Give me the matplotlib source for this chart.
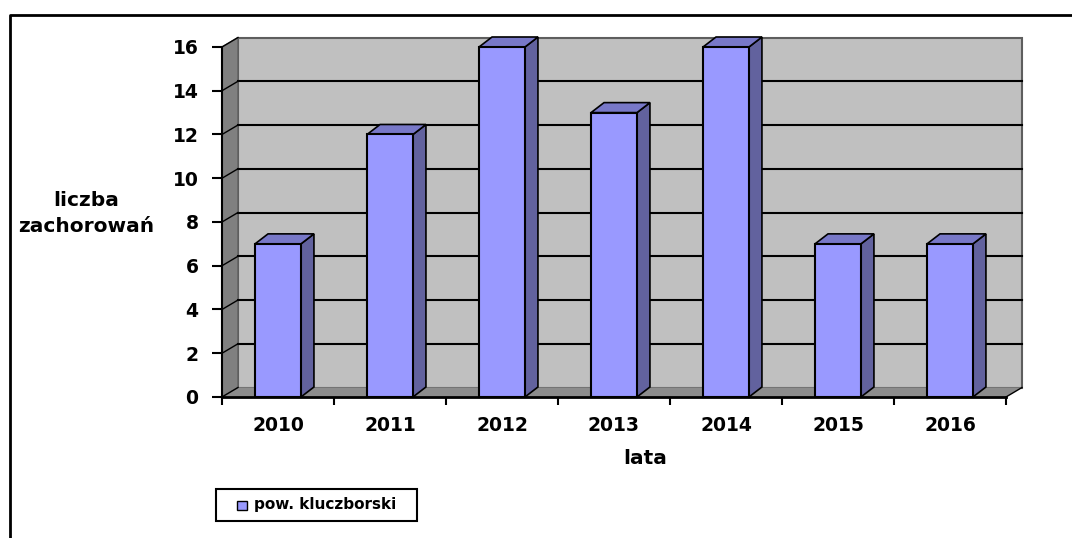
import matplotlib
matplotlib.use("Agg")
import matplotlib.pyplot as plt
from matplotlib.patches import Polygon, Rectangle
from matplotlib.lines import Line2D

years = ["2010", "2011", "2012", "2013", "2014", "2015", "2016"]
cases = [7, 12, 16, 13, 16, 7, 7]
y_ticks = [0, 2, 4, 6, 8, 10, 12, 14, 16]
series_name = "pow. kluczborski"
x_title = "lata"
y_title = ["liczba", "zachorowań"]

W, H = 1072, 538
FRONT = "#9999FF"
SIDE = "#62629E"
TOP = "#7878C8"
WALL = "#C0C0C0"
SIDE_WALL = "#808080"
FLOOR = "#8C8C8C"

plt.rcParams["font.family"] = ["DejaVu Sans"]
plt.rcParams["font.weight"] = "bold"

n = len(years)
ymax = y_ticks[-1]
wdx, wdy = 0.143, 0.434   # depth of walls (data units)
bdx, bdy = 0.116, 0.457   # depth of bars
bw = 0.41

fig = plt.figure(figsize=(W / 100, H / 100), dpi=100)
ax = fig.add_axes([222 / W, 1 - 397 / H, 800 / W, 359.5 / H])
ax.set_xlim(0, n + wdx)
ax.set_ylim(0, ymax + wdy)
for s in ax.spines.values():
    s.set_visible(False)
ax.patch.set_visible(False)

# walls and floor
ax.add_patch(Rectangle((wdx, wdy), n, ymax, facecolor=WALL, edgecolor="#5E5E5E",
                       lw=1.5, zorder=1, clip_on=False))
ax.add_patch(Polygon([(0, 0), (wdx, wdy), (wdx, ymax + wdy), (0, ymax)], closed=True,
                     facecolor=SIDE_WALL, edgecolor="#5E5E5E", lw=1.0, zorder=1, clip_on=False))
ax.add_patch(Polygon([(0, 0), (n, 0), (n + wdx, wdy), (wdx, wdy)], closed=True,
                     facecolor=FLOOR, edgecolor="none", zorder=1, clip_on=False))

# gridlines on back wall and side wall
for v in y_ticks[1:-1]:
    ax.plot([wdx, n + wdx], [v + wdy, v + wdy], color="black", lw=1.5, zorder=2, clip_on=False)
for v in y_ticks:
    ax.plot([0, wdx], [v, v + wdy], color="black", lw=1.0, zorder=2, clip_on=False)
ax.plot([n, n + wdx], [0, wdy], color="black", lw=1.0, zorder=2, clip_on=False)

# bars
centers = [i + 0.5 for i in range(n)]
ax.bar(centers, cases, width=bw, color=FRONT, edgecolor="black", lw=1.5, zorder=4, clip_on=False)
for c, v in zip(centers, cases):
    l, r = c - bw / 2, c + bw / 2
    ax.add_patch(Polygon([(r, 0), (r + bdx, bdy), (r + bdx, v + bdy), (r, v)], closed=True,
                         facecolor=SIDE, edgecolor="black", lw=1.2, zorder=3, clip_on=False))
    ax.add_patch(Polygon([(l, v), (r, v), (r + bdx, v + bdy), (l + bdx, v + bdy)], closed=True,
                         facecolor=TOP, edgecolor="black", lw=1.2, zorder=3, clip_on=False))

# axis lines
ax.plot([0, n], [0, 0], color="black", lw=2, zorder=5, clip_on=False)
ax.plot([0, 0], [0, ymax], color="black", lw=1.5, zorder=5, clip_on=False)

ax.set_yticks(y_ticks)
ax.set_yticklabels([str(t) for t in y_ticks], fontsize=13.5, fontweight="bold")
ax.tick_params(axis="y", length=7, width=1.5, pad=10)
ax.set_xticks(range(n + 1))
ax.set_xticklabels([])
ax.tick_params(axis="x", which="major", length=6, width=1.5)
ax.set_xticks(centers, minor=True)
ax.set_xticklabels(years, minor=True, fontsize=13.5, fontweight="bold")
ax.tick_params(axis="x", which="minor", length=0, pad=14)

# titles
fig.text(645 / W, 1 - 459 / H, x_title, ha="center", va="center", fontsize=14.5, fontweight="bold")
fig.text(86 / W, 1 - 200.5 / H, y_title[0], ha="center", va="center", fontsize=14.5, fontweight="bold")
fig.text(86 / W, 1 - 226.5 / H, y_title[1], ha="center", va="center", fontsize=14.5, fontweight="bold")

# legend
fig.add_artist(Rectangle((216 / W, 1 - 521 / H), 201 / W, 32 / H, transform=fig.transFigure,
                         fill=False, edgecolor="black", lw=1.5))
fig.add_artist(Rectangle((237 / W, 1 - 510 / H), 10 / W, 9 / H, transform=fig.transFigure,
                         facecolor=FRONT, edgecolor="black", lw=1.0))
fig.text(254 / W, 1 - 505 / H, series_name, ha="left", va="center", fontsize=11, fontweight="bold")

# outer chart border
fig.add_artist(Line2D([10 / W, 10 / W, 1.01], [-0.01, 1 - 15 / H, 1 - 15 / H],
                      transform=fig.transFigure, color="black", lw=2))

fig.savefig("out.png", dpi=100)
